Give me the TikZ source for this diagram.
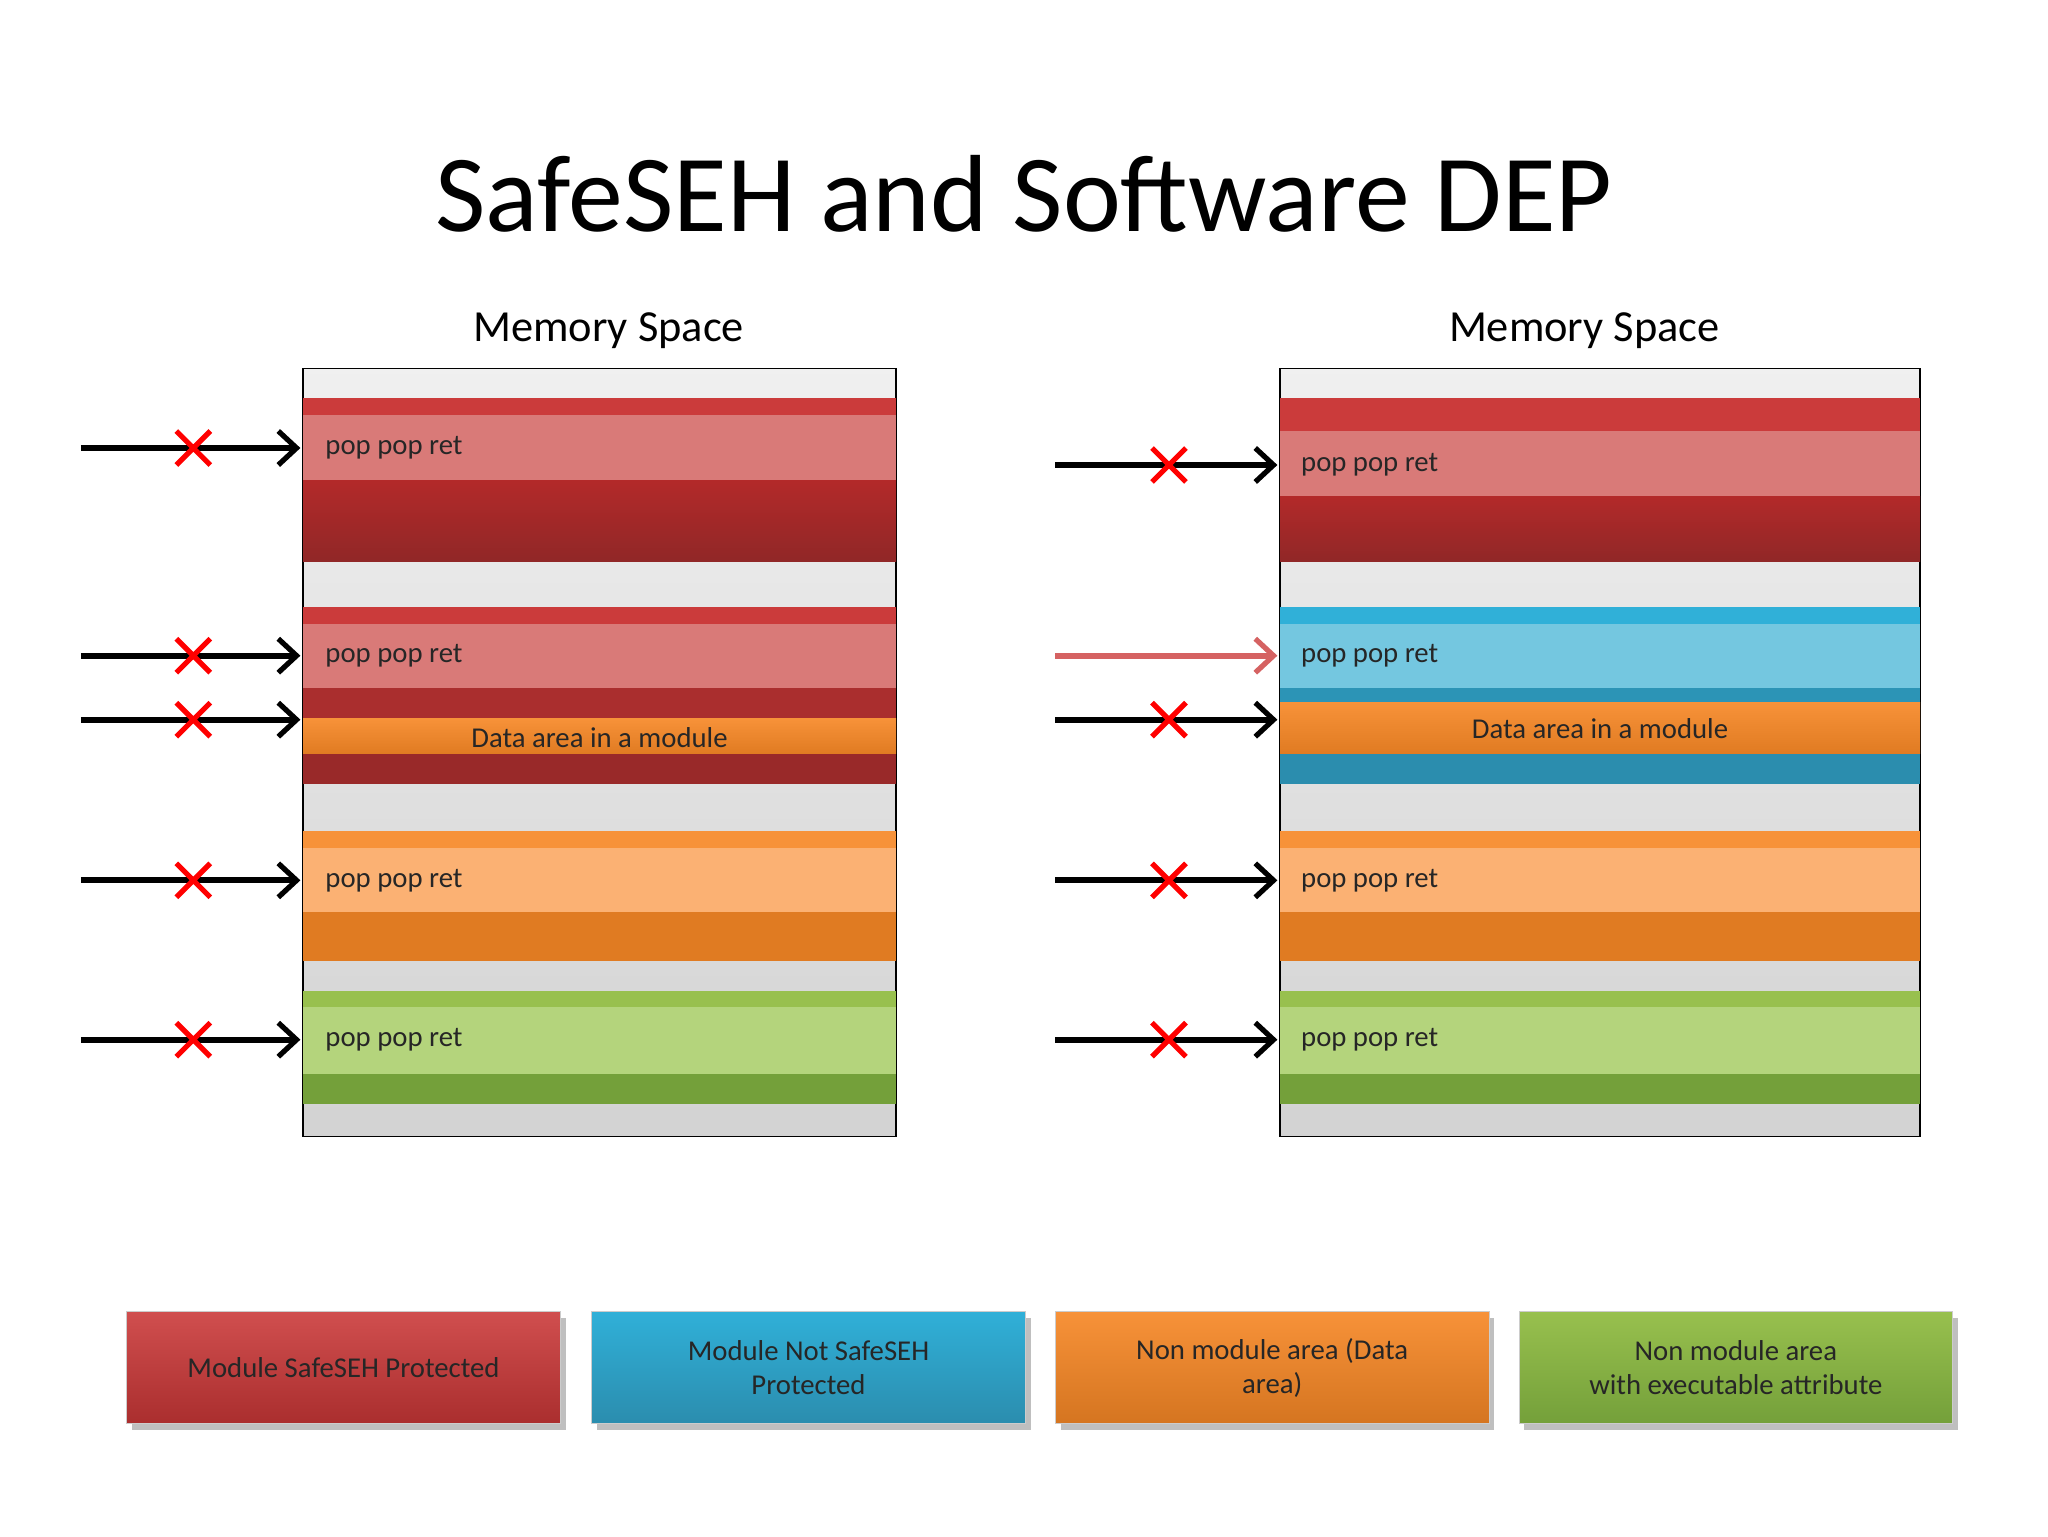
\documentclass[tikz,border=0pt]{standalone}
\usepackage{fontspec}
\setmainfont{Carlito}
\usetikzlibrary{arrows.meta}
\definecolor{rtop}{HTML}{CB3B3B}\definecolor{rlight}{HTML}{D97A78}\definecolor{rdark}{HTML}{AA2E2E}
\definecolor{otop}{HTML}{F79239}\definecolor{olight}{HTML}{FBB173}\definecolor{odark}{HTML}{E07B22}
\definecolor{gtop}{HTML}{98C04E}\definecolor{glight}{HTML}{B4D47C}\definecolor{gdark}{HTML}{74A03A}
\definecolor{btop}{HTML}{30B0D8}\definecolor{blight}{HTML}{74C7E0}\definecolor{bdark}{HTML}{2B8DAE}
\tikzset{
 arr/.style={line width=4.5pt,-{Straight Barb[length=14pt,width=26pt,line width=4pt]}},
 xm/.style={red,line width=4pt},
 lbl/.style={anchor=west,font=\fontsize{22}{24}\selectfont,text=black!85,inner sep=0},
 dlbl/.style={font=\fontsize{22}{24}\selectfont,text=black!85,inner sep=0},
 leg/.style={minimum width=332pt,minimum height=86pt,draw=white!80!black,line width=0.5pt,align=center,
   font=\fontsize{22}{26}\selectfont,text=black!85},
}
\newcommand{\xmark}[2]{\draw[xm] (#1-13,#2-13) -- (#1+13,#2+13) (#1-13,#2+13) -- (#1+13,#2-13);}
\begin{document}
\begin{tikzpicture}[x=1pt,y=-1pt]
\useasboundingbox[fill=white] (0,0) rectangle (1568,1176);
\node (title) at (784,148) {\fontsize{84}{90}\selectfont SafeSEH and Software DEP};
\node (ml) at (466,253) {\fontsize{34}{38}\selectfont Memory Space};
\node (mr) at (1213,253) {\fontsize{34}{38}\selectfont Memory Space};
% boxes
\foreach \a/\b in {232/686,980/1470}{
 \shade[top color=gray!12,bottom color=gray!35] (\a,282) rectangle (\b,870);
 \draw[line width=1.2pt] (\a,282) rectangle (\b,870);
}
% left bands
\fill[rtop] (232,305) rectangle (686,318);
\fill[rlight] (232,318) rectangle (686,368);
\shade[top color=rdark!90!red,bottom color=rdark!85!black] (232,368) rectangle (686,430);
\fill[rtop] (232,465) rectangle (686,478);
\fill[rlight] (232,478) rectangle (686,527);
\fill[rdark] (232,527) rectangle (686,550);
\shade[top color=otop,bottom color=odark] (232,550) rectangle (686,577);
\fill[rdark!90!black] (232,577) rectangle (686,600);
% right bands
\fill[rtop] (980,305) rectangle (1470,330);
\fill[rlight] (980,330) rectangle (1470,380);
\shade[top color=rdark!90!red,bottom color=rdark!85!black] (980,380) rectangle (1470,430);
\fill[btop] (980,465) rectangle (1470,478);
\fill[blight] (980,478) rectangle (1470,527);
\fill[bdark!80!btop] (980,527) rectangle (1470,538);
\shade[top color=otop,bottom color=odark] (980,538) rectangle (1470,577);
\fill[bdark] (980,577) rectangle (1470,600);
\foreach \a/\b in {232/686,980/1470}{
 \fill[otop] (\a,636) rectangle (\b,649);
 \fill[olight] (\a,649) rectangle (\b,698);
 \fill[odark] (\a,698) rectangle (\b,736);
 \fill[gtop] (\a,759) rectangle (\b,771);
 \fill[glight] (\a,771) rectangle (\b,822);
 \fill[gdark] (\a,822) rectangle (\b,845);
}
% labels
\node[lbl] (l1) at (249,343) {pop pop ret};
\node[lbl] (l2) at (249,502) {pop pop ret};
\node[dlbl] (l3) at (459,565) {Data area in a module};
\node[lbl] (l4) at (249,674) {pop pop ret};
\node[lbl] (l5) at (249,796) {pop pop ret};
\node[lbl] (r1) at (996,356) {pop pop ret};
\node[lbl] (r2) at (996,502) {pop pop ret};
\node[dlbl] (r3) at (1225,558) {Data area in a module};
\node[lbl] (r4) at (996,674) {pop pop ret};
\node[lbl] (r5) at (996,796) {pop pop ret};
% arrows
\foreach \y [count=\i] in {343,502,551,674,796}{
 \coordinate (sl\i) at (62,\y); \coordinate (el\i) at (230,\y);
 \draw[arr] (sl\i) -- (el\i);
 \xmark{148}{\y}
}
\foreach \y [count=\i] in {356,551,674,796}{
 \coordinate (sr\i) at (808,\y); \coordinate (er\i) at (978,\y);
 \draw[arr] (sr\i) -- (er\i);
 \xmark{895}{\y}
}
\coordinate (sr0) at (808,502); \coordinate (er0) at (978,502);
\draw[arr,color=rtop!80!white] (sr0) -- (er0);
% legend
\foreach \x/\t/\b/\n/\s in {263/rtop!90!white/rdark/g1/{Module SafeSEH Protected},
  619/btop/bdark/g2/{Module Not SafeSEH\\Protected},
  974/otop/odark!95!black/g3/{Non module area (Data\\area)},
  1329/gtop/gdark/g4/{Non module area\\with executable attribute}}{
 \fill[black!25] (\x-166+4,1004+5) rectangle (\x+166+4,1090+5);
 \node[leg,top color=\t,bottom color=\b] (\n) at (\x,1047) {\s};
}
\end{tikzpicture}
\end{document}
